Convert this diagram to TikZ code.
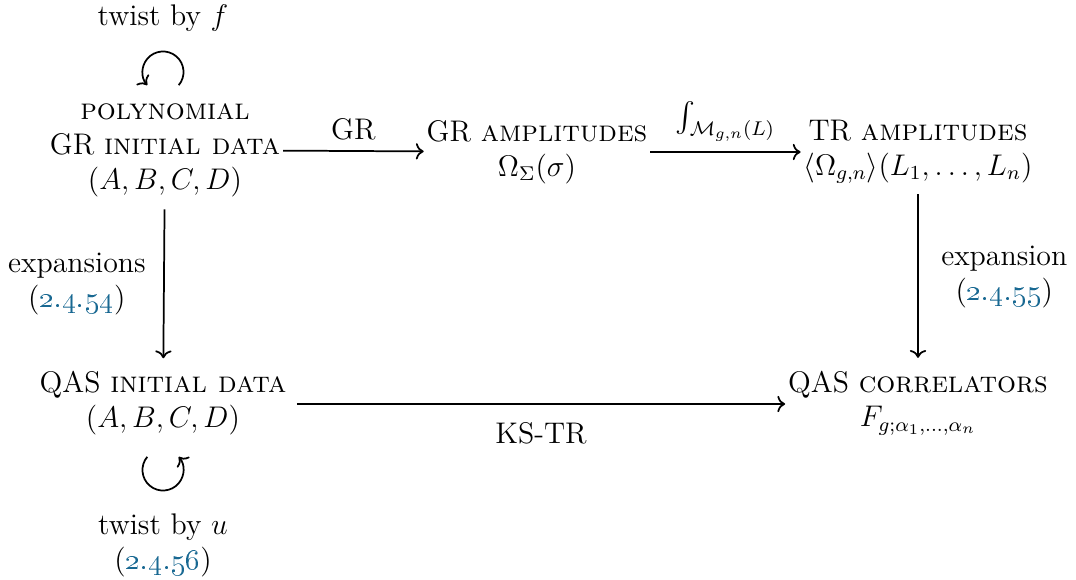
\documentclass[tikz,border=0pt]{standalone}
\usepackage{xcolor}
\usepackage{amsmath}
\usepackage{amssymb}
\usepackage{tikz}
\usetikzlibrary{arrows.meta, positioning, calc}

\definecolor{linkblue}{RGB}{24,104,146}
\newcommand{\eqnum}[1]{(\textcolor{linkblue}{\oldstylenums{#1}})}

\begin{document}
\begin{tikzpicture}[
  x=0.01413cm, y=-0.01413cm,
  obj/.style={align=center, inner sep=1pt, font=\large},
  lbl/.style={align=center, inner sep=1pt, font=\large},
  map/.style={->, line width=0.7pt}
]
  \useasboundingbox (0,0) rectangle (1076,580);

  \node[obj] (grdata) at (165,150) {\textsc{polynomial}\\GR \textsc{initial data}\\$(A,B,C,D)$};
  \node[obj] (gramp) at (537,152) {GR \textsc{amplitudes}\\$\Omega_\Sigma(\sigma)$};
  \node[obj] (tramp) at (918,152) {TR \textsc{amplitudes}\\$\langle\Omega_{g,n}\rangle(L_1,\dots,L_n)$};
  \node[obj] (qasdata) at (163,403) {QAS \textsc{initial data}\\$(A,B,C,D)$};
  \node[obj] (qascorr) at (918,403) {QAS \textsc{correlators}\\$F_{g;\alpha_1,\dots,\alpha_n}$};

  % twists
  \coordinate (loopf) at (163,72);
  \coordinate (loopu) at (163,470);
  \coordinate (ksy) at (0,404);
  \node[lbl] (twistf) at (163,18) {twist by $f$};
  \node[lbl] (twistu) at (163,545) {twist by $u$\\\eqnum{2.4.56}};
  \draw[map] (loopf) ++(-40:0.29cm) arc[start angle=-40, end angle=220, radius=0.29cm];
  \draw[map] (loopu) ++(140:0.29cm) arc[start angle=140, end angle=400, radius=0.29cm];

  \draw[map] (grdata) -- node[lbl, above=3pt] {GR} (gramp);
  \draw[map] (gramp) -- node[lbl, above=3pt] {$\int_{\mathcal{M}_{g,n}(L)}$} (tramp);
  \draw[map, shorten <=4pt, shorten >=4pt] (grdata) -- node[lbl, left=6pt] {expansions\\\eqnum{2.4.54}} (qasdata);
  \draw[map, shorten <=3pt, shorten >=4pt] (tramp) -- node[lbl, right=8pt] {expansion\\\eqnum{2.4.55}} (qascorr);
  \draw[map] ([xshift=3pt]qasdata.east |- ksy) -- node[lbl, below=6pt] {KS-TR} (qascorr.west |- ksy);
\end{tikzpicture}
\end{document}
